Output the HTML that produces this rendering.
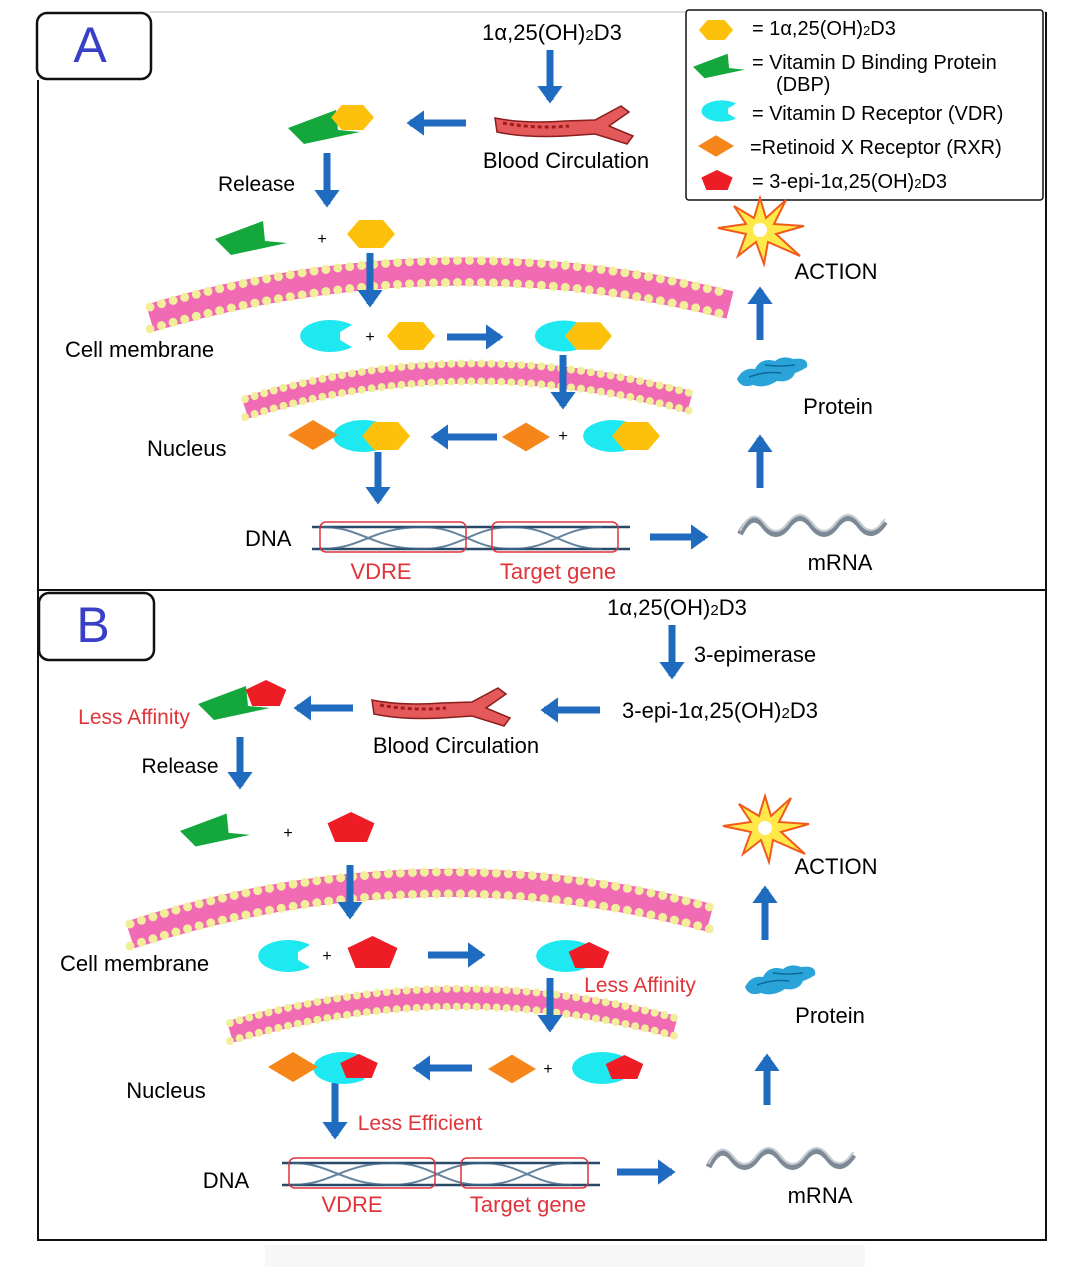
<!DOCTYPE html>
<html><head><meta charset="utf-8"><style>
html,body{margin:0;padding:0;background:#fff;}
svg{display:block;font-family:"Liberation Sans",Arial,sans-serif;}
</style></head><body>
<svg width="1085" height="1269" viewBox="0 0 1085 1269" xmlns="http://www.w3.org/2000/svg">
<defs>
<marker id="ah" markerWidth="4" markerHeight="4" refX="2" refY="2" orient="auto" markerUnits="strokeWidth">
<path d="M0,0.2 L2.5,2 L0,3.8 Z" fill="#1f6bbf"/></marker>
<symbol id="hex" viewBox="0 0 48 28" overflow="visible"><polygon points="12,0 36,0 48,14 36,28 12,28 0,14" fill="#fdc10c"/></symbol>
<symbol id="dbp" viewBox="0 0 72 34" overflow="visible"><polygon points="0,18 48,0 50,20 72,22 16,34" fill="#14a83c"/></symbol>
<symbol id="vdr" viewBox="0 0 60 32" overflow="visible"><path d="M60,5 A30,16 0 1 0 60,27 L48,20 L48,12 Z" fill="#1ee8f0"/></symbol>
<symbol id="rxr" viewBox="0 0 50 30" overflow="visible"><polygon points="25,0 50,15 25,30 0,15" fill="#f6861a"/></symbol>
<symbol id="pent" viewBox="0 0 50 32" overflow="visible"><polygon points="25,0 50,12 42,32 8,32 0,12" fill="#ee1c24"/></symbol>
<symbol id="vessel" viewBox="0 0 138 34" overflow="visible">
<path d="M0,10 Q30,16 70,13 L100,12 L126,-2 L134,4 L114,18 L138,28 L132,36 L100,26 L70,28 Q30,30 2,24 Z" fill="#e45a5a" stroke="#8a1e1e" stroke-width="1.5"/>
<path d="M8,15 Q40,21 74,18" stroke="#a31c1c" stroke-width="3" stroke-dasharray="4 3" fill="none"/></symbol>
<symbol id="star" viewBox="-45 -35 90 70" overflow="visible">
<polygon points="0,-32 6,-12 26,-30 14,-6 44,-4 16,4 40,26 8,12 4,34 -4,12 -22,26 -14,4 -42,-2 -14,-6 -26,-24 -6,-12" fill="#ffe94a" stroke="#f25a1a" stroke-width="2"/>
<circle cx="0" cy="0" r="7" fill="#fff"/></symbol>
<symbol id="prot" viewBox="0 0 75 35" overflow="visible">
<path d="M2,24 Q8,12 20,14 Q26,2 40,6 Q48,0 58,4 Q74,2 72,12 Q66,16 60,18 Q56,28 42,26 Q30,34 18,30 Q6,34 2,24 Z" fill="#2aa3d8"/>
<path d="M14,22 Q30,16 46,18 M30,10 Q44,12 60,10" stroke="#0d6a9a" stroke-width="1.5" fill="none"/></symbol>
<symbol id="mrna" viewBox="0 0 145 22" overflow="visible">
<path d="M0,20 Q12,-4 24,12 T48,12 T72,12 T96,12 T120,12 T145,8" stroke="#7d8a96" stroke-width="6" fill="none"/>
<path d="M0,17 Q12,-7 24,9 T48,9 T72,9 T96,9 T120,9 T145,5" stroke="#c5ccd4" stroke-width="2" fill="none"/></symbol>
<symbol id="dna" viewBox="0 0 318 30" overflow="visible">
<path d="M0,4 L318,4 M0,26 L318,26" stroke="#284a68" stroke-width="2.5" fill="none"/>
<path d="M10,4 C50,4 60,26 110,26 C150,26 160,4 200,4 C240,4 250,26 290,26 M10,26 C50,26 60,4 110,4 C150,4 160,26 200,26 C240,26 250,4 290,4" stroke="#3d6486" stroke-width="2" fill="none" opacity="0.8"/></symbol>
</defs>

<line x1="150" y1="12" x2="1046" y2="12" stroke="#bbb" stroke-width="1"/>
<path d="M38,80 L38,1240 L1046,1240 L1046,12" stroke="#111" stroke-width="2" fill="none"/>
<line x1="38" y1="590" x2="1046" y2="590" stroke="#111" stroke-width="2"/>
<rect x="37" y="13" width="114" height="66" rx="10" fill="#fff" stroke="#111" stroke-width="2.5"/>
<text x="90" y="62" font-size="50" fill="#3a3fc8" text-anchor="middle">A</text>
<rect x="39" y="593" width="115" height="67" rx="10" fill="#fff" stroke="#111" stroke-width="2.5"/>
<text x="93" y="642" font-size="50" fill="#3a3fc8" text-anchor="middle">B</text>

<!-- membranes -->
<g fill="none">
<path d="M150,318 Q440,232 730,305" stroke="#f06ab4" stroke-width="28"/>
<path d="M150,307 Q440,221 730,294" stroke="#f3ee9c" stroke-width="9" stroke-linecap="round" stroke-dasharray="0 12"/>
<path d="M150,329 Q440,243 730,316" stroke="#f3ee9c" stroke-width="9" stroke-linecap="round" stroke-dasharray="0 12"/>
<path d="M245,408 Q460,340 690,402" stroke="#f06ab4" stroke-width="22"/>
<path d="M245,399 Q460,331 690,393" stroke="#f3ee9c" stroke-width="8" stroke-linecap="round" stroke-dasharray="0 10"/>
<path d="M245,417 Q460,349 690,411" stroke="#f3ee9c" stroke-width="8" stroke-linecap="round" stroke-dasharray="0 10"/>
<path d="M130,935 Q420,840 710,918" stroke="#f06ab4" stroke-width="28"/>
<path d="M130,924 Q420,829 710,907" stroke="#f3ee9c" stroke-width="9" stroke-linecap="round" stroke-dasharray="0 12"/>
<path d="M130,946 Q420,851 710,929" stroke="#f3ee9c" stroke-width="9" stroke-linecap="round" stroke-dasharray="0 12"/>
<path d="M230,1032 Q450,966 675,1027" stroke="#f06ab4" stroke-width="22"/>
<path d="M230,1023 Q450,957 675,1018" stroke="#f3ee9c" stroke-width="8" stroke-linecap="round" stroke-dasharray="0 10"/>
<path d="M230,1041 Q450,975 675,1036" stroke="#f3ee9c" stroke-width="8" stroke-linecap="round" stroke-dasharray="0 10"/>
</g>

<!-- legend -->
<rect x="686" y="10" width="357" height="190" rx="3" fill="#fff" stroke="#111" stroke-width="1.5"/>
<use href="#hex" x="697" y="20" width="38" height="20"/>
<text x="752" y="35" font-size="20">= 1α,25(OH)<tspan font-size="13">2</tspan>D3</text>
<use href="#dbp" x="693" y="52" width="52" height="28"/>
<text x="752" y="69" font-size="20">= Vitamin D Binding Protein</text>
<text x="776" y="91" font-size="20">(DBP)</text>
<use href="#vdr" x="696" y="100" width="40" height="22"/>
<text x="752" y="120" font-size="20">= Vitamin D Receptor (VDR)</text>
<use href="#rxr" x="698" y="135" width="36" height="22"/>
<text x="750" y="154" font-size="20">=Retinoid X Receptor (RXR)</text>
<use href="#pent" x="699" y="170" width="36" height="20"/>
<text x="752" y="188" font-size="20">= 3-epi-1α,25(OH)<tspan font-size="13">2</tspan>D3</text>

<g stroke="#1f6bbf" stroke-width="7" fill="none" marker-end="url(#ah)">
<line x1="550" y1="50" x2="550" y2="100"/>
<line x1="466" y1="123" x2="410" y2="123"/>
<line x1="327" y1="153" x2="327" y2="204"/>
<line x1="370" y1="253" x2="370" y2="304"/>
<line x1="447" y1="337" x2="500" y2="337"/>
<line x1="563" y1="355" x2="563" y2="406"/>
<line x1="497" y1="437" x2="434" y2="437"/>
<line x1="378" y1="452" x2="378" y2="501"/>
<line x1="650" y1="537" x2="705" y2="537"/>
<line x1="760" y1="488" x2="760" y2="438"/>
<line x1="760" y1="340" x2="760" y2="290"/>
<line x1="672" y1="625" x2="672" y2="676"/>
<line x1="600" y1="710" x2="544" y2="710"/>
<line x1="353" y1="708" x2="297" y2="708"/>
<line x1="240" y1="737" x2="240" y2="786"/>
<line x1="350" y1="865" x2="350" y2="916"/>
<line x1="428" y1="955" x2="482" y2="955"/>
<line x1="550" y1="978" x2="550" y2="1029"/>
<line x1="472" y1="1068" x2="416" y2="1068"/>
<line x1="335" y1="1083" x2="335" y2="1136"/>
<line x1="617" y1="1172" x2="672" y2="1172"/>
<line x1="767" y1="1105" x2="767" y2="1057"/>
<line x1="765" y1="940" x2="765" y2="889"/>
</g>

<!-- Panel A -->
<text x="552" y="40" font-size="22" text-anchor="middle">1α,25(OH)<tspan font-size="15">2</tspan>D3</text>
<use href="#vessel" x="495" y="108" width="138" height="34"/>
<text x="566" y="168" font-size="22" text-anchor="middle">Blood Circulation</text>
<use href="#dbp" x="288" y="108" width="72" height="38"/>
<use href="#hex" x="330" y="105" width="45" height="25"/>
<text x="218" y="191" font-size="21">Release</text>
<use href="#dbp" x="215" y="221" width="72" height="34"/>
<text x="322" y="244" font-size="16" text-anchor="middle">+</text>
<use href="#hex" x="347" y="220" width="48" height="28"/>
<use href="#vdr" x="292" y="320" width="60" height="32"/>
<text x="370" y="342" font-size="16" text-anchor="middle">+</text>
<use href="#hex" x="387" y="322" width="48" height="28"/>
<use href="#vdr" x="527" y="320" width="58" height="32"/>
<use href="#hex" x="565" y="322" width="47" height="28"/>
<text x="65" y="357" font-size="22">Cell membrane</text>
<text x="147" y="456" font-size="22">Nucleus</text>
<use href="#vdr" x="325" y="420" width="60" height="32"/>
<use href="#rxr" x="288" y="420" width="50" height="30"/>
<use href="#hex" x="362" y="422" width="48" height="28"/>
<use href="#rxr" x="502" y="422" width="48" height="30"/>
<text x="563" y="441" font-size="16" text-anchor="middle">+</text>
<use href="#vdr" x="575" y="420" width="60" height="32"/>
<use href="#hex" x="612" y="422" width="48" height="28"/>
<text x="245" y="546" font-size="22">DNA</text>
<use href="#dna" x="312" y="523" width="318" height="30"/>
<rect x="320" y="522" width="146" height="30" rx="6" fill="none" stroke="#e0333a" stroke-width="1.5"/>
<rect x="492" y="522" width="126" height="30" rx="6" fill="none" stroke="#e0333a" stroke-width="1.5"/>
<text x="381" y="579" font-size="22" fill="#e0333a" text-anchor="middle">VDRE</text>
<text x="558" y="579" font-size="22" fill="#e0333a" text-anchor="middle">Target gene</text>
<use href="#mrna" x="740" y="514" width="145" height="22"/>
<text x="840" y="570" font-size="22" text-anchor="middle">mRNA</text>
<use href="#prot" x="735" y="355" width="75" height="35"/>
<text x="838" y="414" font-size="22" text-anchor="middle">Protein</text>
<use href="#star" x="715" y="195" width="90" height="70"/>
<text x="836" y="279" font-size="22" text-anchor="middle">ACTION</text>

<!-- Panel B -->
<text x="677" y="615" font-size="22" text-anchor="middle">1α,25(OH)<tspan font-size="15">2</tspan>D3</text>
<text x="755" y="662" font-size="22" text-anchor="middle">3-epimerase</text>
<text x="720" y="718" font-size="22" text-anchor="middle">3-epi-1α,25(OH)<tspan font-size="15">2</tspan>D3</text>
<use href="#vessel" x="372" y="690" width="138" height="34"/>
<text x="456" y="753" font-size="22" text-anchor="middle">Blood Circulation</text>
<use href="#dbp" x="198" y="684" width="72" height="38"/>
<use href="#pent" x="245" y="680" width="42" height="26"/>
<text x="134" y="724" font-size="21" fill="#e0333a" text-anchor="middle">Less Affinity</text>
<text x="180" y="773" font-size="21" text-anchor="middle">Release</text>
<use href="#dbp" x="180" y="812" width="70" height="36"/>
<text x="288" y="838" font-size="16" text-anchor="middle">+</text>
<use href="#pent" x="326" y="812" width="50" height="30"/>
<use href="#vdr" x="250" y="940" width="60" height="32"/>
<text x="327" y="961" font-size="16" text-anchor="middle">+</text>
<use href="#pent" x="347" y="936" width="51" height="32"/>
<use href="#vdr" x="528" y="940" width="60" height="32"/>
<use href="#pent" x="568" y="942" width="42" height="26"/>
<text x="640" y="992" font-size="21" fill="#e0333a" text-anchor="middle">Less Affinity</text>
<text x="60" y="971" font-size="22">Cell membrane</text>
<text x="166" y="1098" font-size="22" text-anchor="middle">Nucleus</text>
<use href="#vdr" x="305" y="1052" width="60" height="32"/>
<use href="#rxr" x="268" y="1052" width="50" height="30"/>
<use href="#pent" x="338" y="1054" width="42" height="24"/>
<use href="#rxr" x="488" y="1054" width="48" height="30"/>
<text x="548" y="1074" font-size="16" text-anchor="middle">+</text>
<use href="#vdr" x="563" y="1052" width="62" height="32"/>
<use href="#pent" x="603" y="1055" width="43" height="24"/>
<text x="420" y="1130" font-size="21" fill="#e0333a" text-anchor="middle">Less Efficient</text>
<text x="226" y="1188" font-size="22" text-anchor="middle">DNA</text>
<use href="#dna" x="282" y="1159" width="318" height="30"/>
<rect x="289" y="1158" width="146" height="30" rx="6" fill="none" stroke="#e0333a" stroke-width="1.5"/>
<rect x="461" y="1158" width="127" height="30" rx="6" fill="none" stroke="#e0333a" stroke-width="1.5"/>
<text x="352" y="1212" font-size="22" fill="#e0333a" text-anchor="middle">VDRE</text>
<text x="528" y="1212" font-size="22" fill="#e0333a" text-anchor="middle">Target gene</text>
<use href="#mrna" x="707" y="1147" width="148" height="22"/>
<text x="820" y="1203" font-size="22" text-anchor="middle">mRNA</text>
<use href="#prot" x="743" y="963" width="75" height="35"/>
<text x="830" y="1023" font-size="22" text-anchor="middle">Protein</text>
<use href="#star" x="720" y="793" width="90" height="70"/>
<text x="836" y="874" font-size="22" text-anchor="middle">ACTION</text>

<rect x="265" y="1245" width="600" height="22" fill="#f7f7f7"/>
</svg>
</body></html>
